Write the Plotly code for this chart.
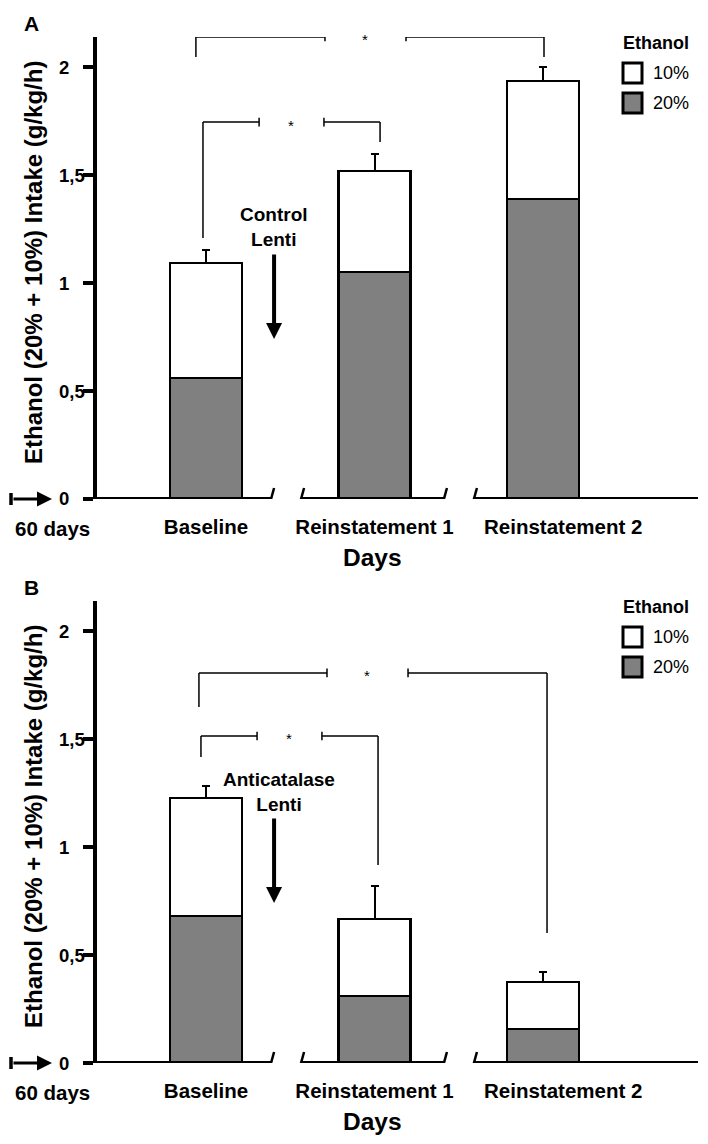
import plotly.graph_objects as go

# ---------------- data ----------------
categories = ["Baseline", "Reinstatement 1", "Reinstatement 2"]
a_eth20 = [0.56, 1.05, 1.39]
a_eth10 = [0.533, 0.468, 0.546]
a_err = [0.06, 0.078, 0.065]
b_eth20 = [0.68, 0.31, 0.157]
b_eth10 = [0.547, 0.357, 0.218]
b_err = [0.055, 0.153, 0.045]
y_tick_vals = [0, 0.5, 1, 1.5, 2]
y_tick_text = ["0", "0,5", "1", "1,5", "2"]
legend_labels = ["10%", "20%"]
panel_letters = ["A", "B"]
treatments = ["Control<br>Lenti", "Anticatalase<br>Lenti"]
y_title = "Ethanol (20% + 10%) Intake (g/kg/h)"
x_title = "Days"

# ---------------- layout helpers ----------------
W, H = 708, 1144
OFF = 8  # default page (body) margin of the html page
FONT = "Liberation Sans, Arial, Helvetica, sans-serif"
GRAY = "#808080"


def px(x):
    return (x - OFF) / W


def py(y):
    return 1 - (y - OFF) / H


xpos = list(range(len(categories)))
bar_w = 0.427
x_range = [-0.647, 2.92]
y_range = [0, 2.139]
label_pos = [0, 1, 2.12]

panels = [
    dict(zero=499, top=37, eth20=a_eth20, eth10=a_eth10, err=a_err, sfx=""),
    dict(zero=1063, top=601, eth20=b_eth20, eth10=b_eth10, err=b_err, sfx="2"),
]

# significance brackets (data units)
brackets = [
    [  # panel A
        dict(y=2.139, x0=-0.06, y0=2.046, xl=0.706, xs=0.944, xr=1.187, x1=2.006, y1=2.046),
        dict(y=1.745, x0=-0.018, y0=1.208, xl=0.315, xs=0.504, xr=0.700, x1=1.033, y1=1.653),
    ],
    [  # panel B
        dict(y=1.806, x0=-0.042, y0=1.648, xl=0.718, xs=0.955, xr=1.199, x1=2.024, y1=0.602),
        dict(y=1.514, x0=-0.030, y0=1.417, xl=0.303, xs=0.493, xr=0.688, x1=1.021, y1=0.917),
    ],
]

fig = go.Figure()
shapes = []
annotations = []


def text_ann(x, y, text, size, bold=True, xanchor="center", yanchor="middle", xref="paper", yref="paper", **kw):
    f = dict(family=FONT, size=size, color="black")
    if bold:
        f["weight"] = "bold"
    d = dict(x=x, y=y, xref=xref, yref=yref, text=text, showarrow=False,
             xanchor=xanchor, yanchor=yanchor, font=f)
    d.update(kw)
    return d


for i, p in enumerate(panels):
    xa = "x" + p["sfx"]
    ya = "y" + p["sfx"]
    fig.add_trace(go.Bar(
        x=xpos, y=p["eth20"], width=bar_w, name=legend_labels[1],
        marker=dict(color=GRAY, line=dict(color="black", width=2.5)),
        xaxis=xa, yaxis=ya, showlegend=False,
    ))
    fig.add_trace(go.Bar(
        x=xpos, y=p["eth10"], width=bar_w, name=legend_labels[0],
        marker=dict(color="white", line=dict(color="black", width=2.5)),
        error_y=dict(type="data", symmetric=False, array=p["err"],
                     arrayminus=[0] * len(p["err"]), color="black",
                     thickness=2, width=4),
        xaxis=xa, yaxis=ya, showlegend=False,
    ))

    # broken x axis line
    segs = [(x_range[0], 0.386), (0.564, 1.412), (1.590, x_range[1])]
    for s0, s1 in segs:
        shapes.append(dict(type="line", xref=xa, yref=ya, x0=s0, x1=s1, y0=0, y1=0,
                           line=dict(color="black", width=4), layer="above"))
    for bx in [0.386, 0.564, 1.412, 1.590]:
        shapes.append(dict(type="line", xref=xa, yref=ya, x0=bx - 0.018, x1=bx + 0.018,
                           y0=-0.051, y1=0.051, line=dict(color="black", width=2.5)))

    # significance brackets
    for b in brackets[i]:
        cap = 0.02
        lw = dict(color="black", width=1.5)
        shapes += [
            dict(type="line", xref=xa, yref=ya, x0=b["x0"], x1=b["x0"], y0=b["y0"], y1=b["y"], line=lw),
            dict(type="line", xref=xa, yref=ya, x0=b["x0"], x1=b["xl"], y0=b["y"], y1=b["y"], line=lw),
            dict(type="line", xref=xa, yref=ya, x0=b["xl"], x1=b["xl"], y0=b["y"] - cap, y1=b["y"] + cap, line=lw),
            dict(type="line", xref=xa, yref=ya, x0=b["xr"], x1=b["xr"], y0=b["y"] - cap, y1=b["y"] + cap, line=lw),
            dict(type="line", xref=xa, yref=ya, x0=b["xr"], x1=b["x1"], y0=b["y"], y1=b["y"], line=lw),
            dict(type="line", xref=xa, yref=ya, x0=b["x1"], x1=b["x1"], y0=b["y"], y1=b["y1"], line=lw),
        ]
        annotations.append(text_ann(b["xs"], b["y"], "*", 15, bold=False, xref=xa, yref=ya, yshift=-3))

    # y tick labels (left aligned, as in the original)
    for v, t in zip(y_tick_vals, y_tick_text):
        annotations.append(text_ann(px(57), v, t, 18.5, xanchor="left", yref=ya))

    # treatment label and arrow
    tx = 0.404
    annotations.append(text_ann(tx + (0.03 if i == 1 else 0), 1.257, treatments[i], 19, xref=xa, yref=ya))
    annotations.append(dict(x=tx, y=0.741, ax=tx, ay=1.139, xref=xa, yref=ya, axref=xa, ayref=ya,
                            text="", showarrow=True, arrowhead=2, arrowwidth=4, arrowsize=0.8,
                            arrowcolor="black"))

    z = p["zero"]
    # "60 days" marker
    annotations.append(text_ann(px(52), py(z + 29), "60 days", 20.5))
    annotations.append(dict(x=px(52), y=py(z), xref="paper", yref="paper", ax=-40, ay=0, text="",
                            showarrow=True, arrowhead=2, arrowwidth=3, arrowsize=1, arrowcolor="black"))
    shapes.append(dict(type="line", xref="paper", yref="paper", x0=px(11), x1=px(11),
                       y0=py(z - 6), y1=py(z + 6), line=dict(color="black", width=3.5)))

    # axis titles
    annotations.append(text_ann(px(372), py(z + 58), x_title, 24.5))
    annotations.append(text_ann(px(33), py(z - 236), y_title, 24, textangle=-90))
    # panel letter
    annotations.append(text_ann(px(22), py(p["top"] - 14), panel_letters[i], 21, xanchor="left"))

    # legend (drawn by hand to match the boxed symbols)
    t = p["top"]
    annotations.append(text_ann(px(621), py(t + 6), "Ethanol", 18, xanchor="left"))
    for k, (lab, col) in enumerate(zip(legend_labels, ["white", GRAY])):
        cy = t + 36 + 30 * k
        shapes.append(dict(type="rect", xref="paper", yref="paper", x0=px(623), x1=px(642),
                           y0=py(cy - 10), y1=py(cy + 10), fillcolor=col,
                           line=dict(color="black", width=3)))
        annotations.append(text_ann(px(651), py(cy), lab, 18, bold=False, xanchor="left"))

axis_common_y = dict(range=y_range, showline=True, linewidth=4, linecolor="black", ticks="outside",
                     ticklen=10, tickwidth=4, tickcolor="black", tickvals=y_tick_vals,
                     showticklabels=False, showgrid=False, zeroline=False, automargin=False)
axis_common_x = dict(range=x_range, showline=False, showgrid=False, zeroline=False,
                     tickvals=label_pos, ticktext=categories, ticks="", automargin=False,
                     ticklabelstandoff=13,
                     tickfont=dict(family=FONT, size=20.5, color="black", weight="bold"))

fig.update_layout(
    width=W, height=H, margin=dict(l=0, r=0, t=0, b=0),
    paper_bgcolor="white", plot_bgcolor="white",
    barmode="stack", showlegend=False,
    xaxis=dict(domain=[px(97), px(698)], anchor="y", **axis_common_x),
    yaxis=dict(domain=[py(499), py(37)], anchor="x", **axis_common_y),
    xaxis2=dict(domain=[px(97), px(698)], anchor="y2", **axis_common_x),
    yaxis2=dict(domain=[py(1063), py(601)], anchor="x2", **axis_common_y),
    shapes=shapes, annotations=annotations,
)

fig.write_html("out.html")
